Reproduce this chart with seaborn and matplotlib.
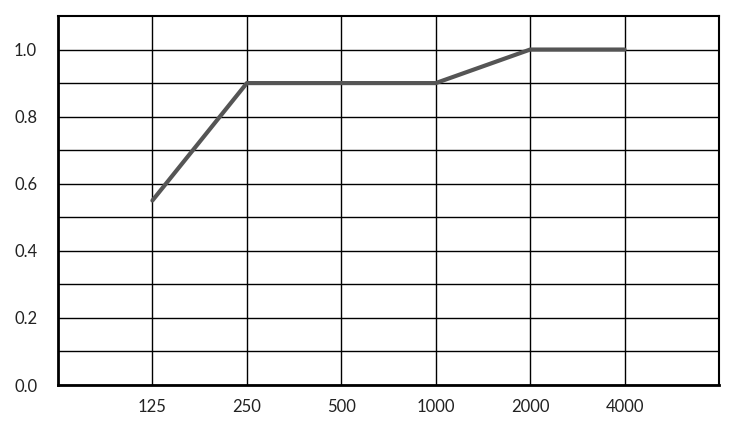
import numpy as np
import pandas as pd
import matplotlib
matplotlib.use("Agg")
import matplotlib.pyplot as plt
import seaborn as sns

# frequency bands (Hz) and absorption values
freqs = ["125", "250", "500", "1000", "2000", "4000"]
alpha = [0.55, 0.90, 0.90, 0.90, 1.00, 1.00]

df = pd.DataFrame({"pos": np.arange(1, len(freqs) + 1), "alpha": alpha})

sns.set_style("white")
plt.rcParams['font.family'] = ['Lato', 'DejaVu Sans']

fig = plt.figure(figsize=(7.5, 4.21), dpi=100)
ax = fig.add_axes([58 / 750, 1 - 385 / 421, (719 - 58) / 750, (385 - 16) / 421])

sns.lineplot(data=df, x="pos", y="alpha", ax=ax, color="#555555", linewidth=3, zorder=3)

ax.set_xlim(0, 7)
ax.set_ylim(0, 1.1)
ax.set_xticks(df["pos"])
ax.set_xticklabels(freqs)
ax.set_yticks([0, 0.2, 0.4, 0.6, 0.8, 1.0])
ax.set_yticklabels(["0.0", "0.2", "0.4", "0.6", "0.8", "1.0"])
ax.set_yticks(np.arange(0.1, 1.1, 0.2), minor=True)
ax.grid(True, which="both", axis="y", color="black", linewidth=1)
ax.grid(True, which="major", axis="x", color="black", linewidth=1)
ax.tick_params(axis="both", which="both", length=0, labelsize=12, colors="#222222")
ax.tick_params(axis="y", pad=15)
ax.tick_params(axis="x", pad=10)
ax.set_xlabel("")
ax.set_ylabel("")

for side in ["left", "bottom"]:
    ax.spines[side].set_linewidth(2)
    ax.spines[side].set_color("black")
for side in ["top", "right"]:
    ax.spines[side].set_linewidth(1.5)
    ax.spines[side].set_color("black")

fig.savefig("out.png", dpi=100)
